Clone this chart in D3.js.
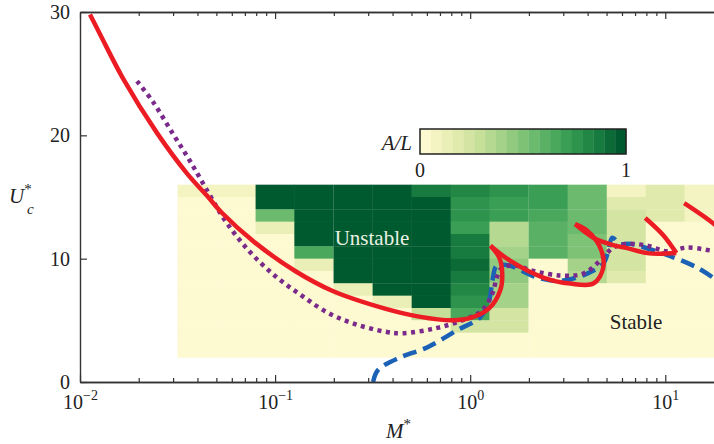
<!DOCTYPE html>
<html>
<head>
<meta charset="utf-8">
<script src="https://cdn.jsdelivr.net/npm/d3@7"></script>
<style>
  body { margin: 0; background: #fff; }
  svg text { font-family: "Liberation Serif", "Times New Roman", "DejaVu Serif", serif; fill: #222; }
</style>
</head>
<body>
<svg id="chart" width="714" height="444"></svg>
<script>
// heat map cells: M* centres (log spaced) and U*_c centres
const mCells = [0.0398, 0.0631, 0.1, 0.158, 0.251, 0.398, 0.631, 1.0, 1.58, 2.51, 3.98, 6.31, 10.0, 15.8];
const uCells = [15.5, 14.5, 13.5, 12.5, 11.5, 10.5, 9.5, 8.5, 7.5, 6.5, 5.5, 4.5, 3.5, 2.5];
// A/L, one row per uCells entry, one column per mCells entry
const amplitude = [
  [0.08, 0.10, 1.00, 1.00, 1.00, 1.00, 0.88, 0.80, 0.76, 0.70, 0.55, 0.10, 0.20, 0.10],
  [0.00, 0.05, 1.00, 1.00, 1.00, 1.00, 0.95, 0.78, 0.70, 0.70, 0.55, 0.17, 0.20, 0.10],
  [0.00, 0.05, 0.55, 1.00, 1.00, 1.00, 1.00, 0.75, 0.70, 0.67, 0.55, 0.25, 0.16, 0.06],
  [0.00, 0.00, 0.15, 1.00, 1.00, 1.00, 1.00, 0.70, 0.35, 0.60, 0.55, 0.25, 0.00, 0.03],
  [0.00, 0.00, 0.05, 1.00, 1.00, 1.00, 1.00, 0.88, 0.35, 0.60, 0.50, 0.25, 0.00, 0.00],
  [0.00, 0.00, 0.00, 0.65, 1.00, 1.00, 1.00, 0.86, 0.42, 0.60, 0.50, 0.25, 0.00, 0.00],
  [0.00, 0.00, 0.00, 0.12, 1.00, 1.00, 1.00, 0.90, 0.47, 0.00, 0.42, 0.24, 0.00, 0.00],
  [0.00, 0.00, 0.00, 0.03, 1.00, 1.00, 1.00, 0.86, 0.47, 0.00, 0.35, 0.20, 0.00, 0.00],
  [0.00, 0.00, 0.00, 0.00, 0.12, 1.00, 0.96, 0.80, 0.42, 0.00, 0.00, 0.00, 0.00, 0.00],
  [0.00, 0.00, 0.00, 0.00, 0.02, 0.15, 0.96, 0.77, 0.40, 0.00, 0.00, 0.00, 0.00, 0.00],
  [0.00, 0.00, 0.00, 0.00, 0.00, 0.00, 0.30, 0.65, 0.25, 0.00, 0.00, 0.00, 0.00, 0.00],
  [0.00, 0.00, 0.00, 0.00, 0.00, 0.00, 0.00, 0.25, 0.22, 0.00, 0.00, 0.00, 0.00, 0.00],
  [0.00, 0.00, 0.00, 0.00, 0.00, 0.00, 0.00, 0.00, 0.00, 0.00, 0.00, 0.00, 0.00, 0.00],
  [0.00, 0.00, 0.00, 0.00, 0.00, 0.00, 0.00, 0.00, 0.00, 0.00, 0.00, 0.00, 0.00, 0.00]
];

// red solid neutral curve, split at the cusps: [M*, U*_c]
const redMain = [[0.01125, 29.8], [0.01267, 28.2], [0.01663, 24.6], [0.0248, 20.2], [0.0354, 16.9],
  [0.0448, 15.1], [0.0535, 13.7], [0.0789, 11.3], [0.1267, 9.0], [0.196, 7.4],
  [0.366, 5.95], [0.547, 5.3], [0.809, 5.0], [1.024, 5.24], [1.25, 5.97],
  [1.425, 7.42], [1.46, 8.79], [1.41, 10.08], [1.27, 11.05]];
const redLobe1 = [[1.27, 11.05], [1.60, 9.84], [2.37, 8.47], [3.26, 7.98], [4.28, 7.98],
  [4.81, 9.27], [4.64, 10.9], [3.98, 12.26], [3.45, 12.8]];
const redLobe2 = [[3.45, 12.8], [4.28, 11.7], [5.41, 11.1], [6.38, 10.85], [8.09, 10.45],
  [9.42, 10.4], [11.4, 10.45]];
const redLobe3 = [[11.4, 10.45], [9.77, 11.9], [7.89, 13.3]];
const redLobe4 = [[12.5, 14.5], [17.8, 12.8], [20, 12.0]];

// purple dotted curve
const purpleCurve = [[0.0196, 24.4], [0.0237, 22.7], [0.030, 20.1], [0.0367, 17.9], [0.0453, 15.4],
  [0.0554, 13.1], [0.0728, 10.7], [0.1, 8.6], [0.137, 7.0], [0.187, 5.6], [0.257, 4.7],
  [0.366, 4.08], [0.448, 3.95], [0.662, 4.35], [0.91, 5.0], [1.15, 5.8], [1.30, 7.18],
  [1.37, 8.47], [1.46, 9.27], [1.70, 9.44], [2.08, 9.03], [2.90, 8.63], [3.80, 8.79],
  [4.64, 9.84], [5.41, 10.9], [6.38, 11.2], [8.09, 11.05], [10.2, 10.6], [13.0, 10.9], [17.8, 10.6]];

// blue dashed curve
const blueCurve = [[0.318, 0.0], [0.337, 0.97], [0.438, 2.0], [0.601, 2.8], [0.857, 4.2],
  [1.125, 5.24], [1.25, 6.6], [1.30, 8.2], [1.37, 9.44], [1.585, 9.44], [2.21, 8.47],
  [2.90, 8.2], [3.98, 8.79], [4.81, 9.6], [5.1, 10.6], [5.35, 11.7], [5.87, 11.2],
  [6.62, 11.2], [9.77, 10.4], [14.6, 9.27], [17.8, 8.4]];

const yTicks = [0, 10, 20, 30];
const xTicks = [0.01, 0.1, 1, 10];
const xTickExp = ["\u22122", "\u22121", "0", "1"];
const xMinor = [0.02, 0.03, 0.04, 0.05, 0.06, 0.07, 0.08, 0.09, 0.2, 0.3, 0.4, 0.5, 0.6, 0.7, 0.8, 0.9,
  2, 3, 4, 5, 6, 7, 8, 9];

const serif = "'Liberation Serif', 'Times New Roman', 'DejaVu Serif', serif";
const svg = d3.select("#chart");
const plotL = 80, plotR = 724, plotT = 12, plotB = 382;

const x = d3.scaleLog().domain([0.01, 20]).range([plotL, plotR]);
const y = d3.scaleLinear().domain([0, 30]).range([plotB, plotT]);

const greens = d3.interpolateRgbBasis(["#fdf9d0", "#e6ecae", "#c6e09a", "#97cc80", "#65b86c",
  "#3ba056", "#1d8442", "#005a2f"]);
const nBins = 19;
function cellColor(v) {
  const b = Math.min(nBins - 1, Math.floor(v * nBins));
  return greens(b / (nBins - 1));
}

svg.append("clipPath").attr("id", "plot")
  .append("rect").attr("x", plotL).attr("y", plotT).attr("width", plotR - plotL).attr("height", plotB - plotT);

const halfCell = Math.pow(10, 0.1);
const cells = [];
uCells.forEach((u, i) => mCells.forEach((m, j) => cells.push({ m: m, u: u, v: amplitude[i][j] })));

svg.append("g").attr("clip-path", "url(#plot)")
  .selectAll("rect").data(cells).join("rect")
  .attr("x", d => x(d.m / halfCell))
  .attr("width", d => x(d.m * halfCell) - x(d.m / halfCell) + 0.3)
  .attr("y", d => y(d.u + 0.5))
  .attr("height", d => y(d.u - 0.5) - y(d.u + 0.5) + 0.3)
  .attr("fill", d => cellColor(d.v));

const line = d3.line().x(d => x(d[0])).y(d => y(d[1])).curve(d3.curveCatmullRom.alpha(0.5));
const curves = svg.append("g").attr("clip-path", "url(#plot)").attr("fill", "none");

curves.append("path").attr("d", line(blueCurve))
  .attr("stroke", "#1b62b6").attr("stroke-width", 4.5).attr("stroke-dasharray", "14,7");
curves.append("path").attr("d", line(purpleCurve))
  .attr("stroke", "#7a2a8a").attr("stroke-width", 4.5).attr("stroke-dasharray", "4,4.5");
[redMain, redLobe1, redLobe2, redLobe3, redLobe4].forEach(c => {
  curves.append("path").attr("d", line(c))
    .attr("stroke", "#ec1c24").attr("stroke-width", 4.5).attr("stroke-linejoin", "round");
});

svg.append("text").attr("x", 372).attr("y", 245).attr("text-anchor", "middle")
  .attr("font-family", serif).attr("font-size", 21).style("fill", "#eaf2e4").text("Unstable");
svg.append("text").attr("x", 636).attr("y", 329).attr("text-anchor", "middle")
  .attr("font-family", serif).attr("font-size", 21).text("Stable");

// axes (ticks point inward)
const axisColor = "#333";
function styleAxis(g) {
  g.attr("font-family", serif);
  g.select(".domain").attr("stroke", axisColor).attr("stroke-width", 1.4);
  g.selectAll(".tick line").attr("stroke", axisColor).attr("stroke-width", 1.2);
}

const gx = svg.append("g").attr("transform", `translate(0,${plotB})`)
  .call(d3.axisBottom(x).tickValues(xTicks).tickSizeInner(-7).tickSizeOuter(0).tickPadding(10).tickFormat(""));
styleAxis(gx);
gx.selectAll(".tick").each(function(d, i) {
  const t = d3.select(this).append("text").attr("y", 27).attr("text-anchor", "middle")
    .attr("font-family", serif).attr("font-size", 20).style("fill", "#222");
  t.append("tspan").text("10");
  t.append("tspan").attr("dy", -9).attr("font-size", 14).text(xTickExp[i]);
});
svg.append("g").attr("transform", `translate(0,${plotB})`)
  .call(d3.axisBottom(x).tickValues(xMinor).tickSizeInner(-4).tickSizeOuter(0).tickFormat(""))
  .call(styleAxis);

const gxTop = svg.append("g").attr("transform", `translate(0,${plotT})`)
  .call(d3.axisTop(x).tickValues(xTicks).tickSizeInner(-7).tickSizeOuter(0).tickFormat(""));
styleAxis(gxTop);
svg.append("g").attr("transform", `translate(0,${plotT})`)
  .call(d3.axisTop(x).tickValues(xMinor).tickSizeInner(-4).tickSizeOuter(0).tickFormat(""))
  .call(styleAxis);

const gy = svg.append("g").attr("transform", `translate(${plotL},0)`)
  .call(d3.axisLeft(y).tickValues(yTicks).tickSizeInner(-7).tickSizeOuter(0).tickPadding(10));
styleAxis(gy);
gy.selectAll(".tick text").attr("font-size", 20).attr("font-family", serif).style("fill", "#222");

// axis titles
const yTitle = svg.append("text").attr("x", 9).attr("y", 203)
  .attr("font-family", serif).attr("font-size", 21).attr("font-style", "italic");
yTitle.append("tspan").text("U");
yTitle.append("tspan").attr("dy", -9).attr("font-size", 15).attr("font-style", "normal").text("*");
yTitle.append("tspan").attr("x", 27).attr("dy", 20).attr("font-size", 15).text("c");

const xTitle = svg.append("text").attr("x", 386).attr("y", 438)
  .attr("font-family", serif).attr("font-size", 21).attr("font-style", "italic");
xTitle.append("tspan").text("M");
xTitle.append("tspan").attr("dy", -9).attr("font-size", 15).attr("font-style", "normal").text("*");

// colour bar
const cb = d3.scaleLinear().domain([0, 1]).range([420, 626]);
const cbTop = 129, cbH = 25;
const bins = d3.range(nBins);
svg.append("g").selectAll("rect").data(bins).join("rect")
  .attr("x", i => cb(i / nBins)).attr("width", cb(1 / nBins) - cb(0) + 0.3)
  .attr("y", cbTop).attr("height", cbH)
  .attr("fill", i => greens(i / (nBins - 1)));
svg.append("rect").attr("x", cb(0)).attr("y", cbTop).attr("width", cb(1) - cb(0)).attr("height", cbH)
  .attr("fill", "none").attr("stroke", "#222").attr("stroke-width", 1.5);
svg.append("g").selectAll("text").data([0, 1]).join("text")
  .attr("x", d => cb(d)).attr("y", 177).attr("text-anchor", "middle")
  .attr("font-family", serif).attr("font-size", 20)
  .text(d => d);
svg.append("text").attr("x", 412).attr("y", 150).attr("text-anchor", "end")
  .attr("font-family", serif).attr("font-size", 21).attr("font-style", "italic").text("A/L");
</script>
</body>
</html>
